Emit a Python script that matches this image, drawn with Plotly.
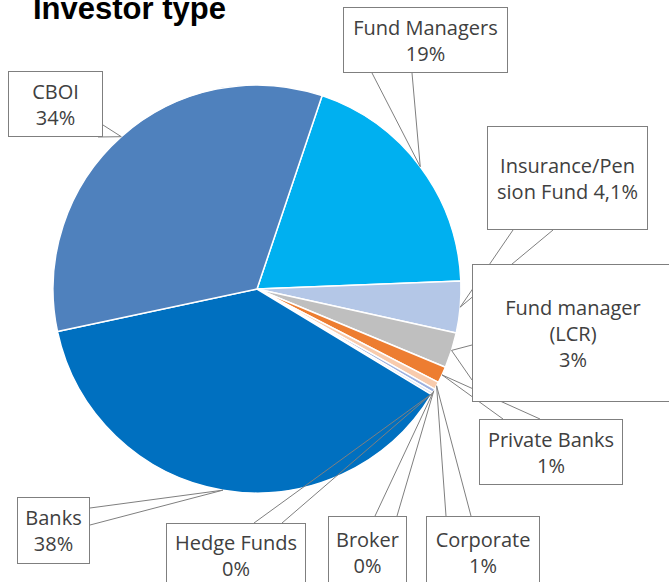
import numpy as np
import plotly.graph_objects as go

W, H = 669, 582

investor_types = ["Fund Managers", "Insurance/Pension Fund", "Fund manager (LCR)",
                  "Private Banks", "Corporate", "Broker", "Hedge Funds", "Banks", "CBOI"]
shares = [19.2, 4.1, 2.8, 1.3, 0.6, 0.3, 0.2, 38.0, 33.5]
callout_text = ["Fund Managers<br>19%", "Insurance/Pen<br>sion Fund 4,1%",
                "Fund manager<br>(LCR)<br>3%", "Private Banks<br>1%", "Corporate<br>1%",
                "Broker<br>0%", "Hedge Funds<br>0%", "Banks<br>38%", "CBOI<br>34%"]
slice_colors = ["#00B0F0", "#B4C7E7", "#BFBFBF", "#ED7D31", "#F8CBAD",
                "#9DB1E0", "#DAE3F3", "#0070C0", "#4F81BD"]

# pie placement in pixels
cx, cy, r = 257, 289, 204
start_deg = 18.6

# callout boxes (x0, y0, x1, y1) and the two base points of each pointer, pixels
boxes = [
    ((343, 7, 508, 73), (372, 73), (412, 73)),
    ((487, 126, 648, 230), (513, 230), (553, 230)),
    ((472, 264, 674, 402), (472, 345), (472, 380)),
    ((479, 419, 623, 485), (503, 419), (540, 419)),
    ((426, 516, 540, 588), (446, 516), (471, 516)),
    ((328, 516, 407, 588), (375, 516), (397, 516)),
    ((166, 523, 306, 587), (254, 523), (282, 523)),
    ((17, 497, 90, 564), (90, 508), (90, 525)),
    ((8, 71, 103, 137), (103, 125), (98, 137)),
]


def px(x):
    return x / W


def py(y):
    return 1 - y / H


fig = go.Figure(go.Pie(
    labels=investor_types,
    values=shares,
    sort=False,
    direction="clockwise",
    rotation=start_deg,
    marker=dict(colors=slice_colors, line=dict(color="white", width=1.5)),
    textinfo="none",
    hoverinfo="label+percent",
    domain=dict(x=[px(cx - r), px(cx + r)], y=[py(cy + r), py(cy - r)]),
    showlegend=False,
))

# mid angle of each slice -> pointer tip on the pie edge
deg = np.array(shares) / sum(shares) * 360
mid = start_deg + np.cumsum(deg) - deg / 2
tips_x = cx + r * np.sin(np.radians(mid))
tips_y = cy - r * np.cos(np.radians(mid))

shapes = []
annotations = []
for i, (box, a, b) in enumerate(boxes):
    tx, ty = tips_x[i], tips_y[i]
    shapes.append(dict(
        type="path", xref="paper", yref="paper", layer="above",
        path=f"M {px(a[0])},{py(a[1])} L {px(tx)},{py(ty)} L {px(b[0])},{py(b[1])}",
        line=dict(color="#7F7F7F", width=1),
    ))
    x0, y0, x1, y1 = box
    annotations.append(dict(
        text=callout_text[i], xref="paper", yref="paper",
        x=px((x0 + x1) / 2), y=py((y0 + y1) / 2),
        xanchor="center", yanchor="middle",
        width=x1 - x0 - 2, height=y1 - y0 - 2,
        align="center", valign="middle",
        bgcolor="white", bordercolor="#7F7F7F", borderwidth=1, borderpad=0,
        showarrow=False,
        font=dict(family="Open Sans", size=20, color="#404040"),
    ))

annotations.append(dict(
    text="<b>Investor type</b>", xref="paper", yref="paper",
    x=px(31), y=py(9), xanchor="left", yanchor="middle", showarrow=False,
    font=dict(family="Liberation Sans, Arial", size=31, color="black"),
))

fig.update_layout(
    width=W, height=H,
    margin=dict(l=0, r=0, t=0, b=0),
    paper_bgcolor="white",
    shapes=shapes,
    annotations=annotations,
)

fig.write_html("out.html", config={"displayModeBar": False},
               post_script="document.body.style.margin = '0';")
